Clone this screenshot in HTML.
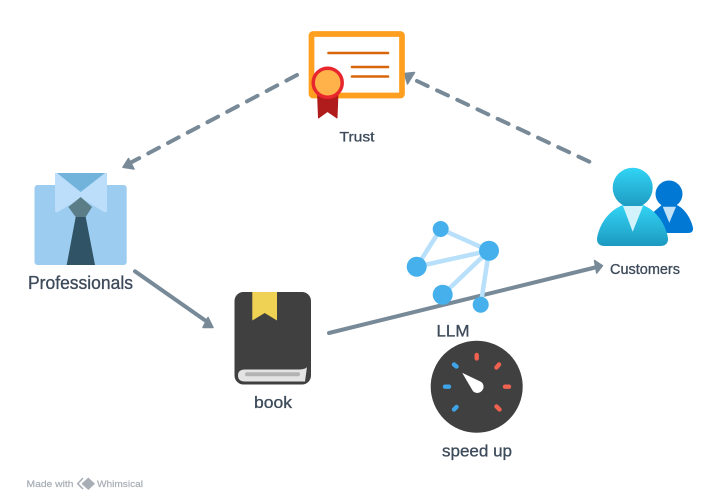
<!DOCTYPE html>
<html><head><meta charset="utf-8"><style>
html,body{margin:0;padding:0;background:#fff;width:720px;height:503px;overflow:hidden}
svg{display:block}
text{font-family:"Liberation Sans",sans-serif;fill:#3d4a5a;stroke:#3d4a5a;stroke-width:.3;text-anchor:middle}
</style></head><body>
<svg width="720" height="503" viewBox="0 0 720 503" xmlns="http://www.w3.org/2000/svg">
<defs>
<linearGradient id="g1" x1="0" y1="0" x2="0" y2="1"><stop offset="0" stop-color="#32d4f5"/><stop offset="1" stop-color="#1d99c0"/></linearGradient>
</defs>
<!-- connectors -->
<g stroke="#788a98" stroke-width="4" fill="none" stroke-linecap="round">
<path d="M297 75L130 163" stroke-dasharray="12 10.300"/>
<path d="M589.300 161.700L417 81" stroke-dasharray="12 10.300"/>
<path d="M135 271.300L206 321"/>
<path d="M329 333L595 267.500"/>
</g>
<g fill="#788a98" stroke="#788a98" stroke-width="1.500" stroke-linejoin="round">
<path d="M123 167.300L128.500 158.500L134 169Z"/>
<path d="M404.500 73.500L414.500 72.500L407.500 84Z"/>
<path d="M213 327.500L208 317.500L203 327.500Z"/>
<path d="M602.500 265.700L594.500 260.500L596.700 273Z"/>
</g>
<!-- certificate -->
<rect x="311.500" y="34" width="90.500" height="61.500" rx="1.500" fill="#fff" stroke="#ff9f1f" stroke-width="5.700"/>
<g stroke="#d9660a" stroke-width="2.600" stroke-linecap="round">
<path d="M328.500 53H388M352 67H388M352 76.500H388"/>
</g>
<path d="M317.500 92H338L337 118L327.500 111.500L318.500 118Z" fill="#b01c1c" stroke="#b01c1c" stroke-linejoin="round"/>
<circle cx="327.700" cy="82.700" r="14.500" fill="#ffb14a" stroke="#e8262d" stroke-width="3.500"/>
<!-- shirt -->
<rect x="34.500" y="185" width="92.200" height="80" rx="3" fill="#9ccdf0"/>
<path d="M55 173H107V210Q107 213 104 212L81 198L58 212Q55 213 55 210Z" fill="#bcdefb"/>
<path d="M57 173H105L80.700 192Z" fill="#72b3dc"/>
<path d="M80.700 197L92 207L85.700 217H75.700L68.300 207Z" fill="#5a7d88"/>
<path d="M75.700 217H85.700L95 265H66.700Z" fill="#305365"/>
<!-- customers -->
<path d="M650 215L661.700 205H676.700C684 208 691 218 693 228Q693.500 233 688 233H655Z" fill="#0078d4"/>
<circle cx="669" cy="194" r="13.500" fill="#0078d4"/>
<path d="M662.700 206.700H676L669.300 222.700Z" fill="#c3e1f7"/>
<path d="M597 238C600 222 610 210 623 205H643C655 210 665 222 668 238Q668.500 246 660 246H605Q596.500 246 597 238Z" fill="url(#g1)"/>
<circle cx="632.700" cy="187.700" r="20" fill="url(#g1)"/>
<path d="M623 206H643L632.700 231.700Z" fill="#d2f3fc"/>
<!-- LLM network -->
<g stroke="#b8e0fa" stroke-width="4.500">
<path d="M440.700 229L489 250.700M440.700 229L416.700 266.700M416.700 266.700L489 250.700M442.700 294.700L489 250.700M480.700 304.700L489 250.700"/>
</g>
<g fill="#45b0ec">
<circle cx="440.700" cy="229" r="8"/>
<circle cx="489" cy="250.700" r="10"/>
<circle cx="416.700" cy="266.700" r="10"/>
<circle cx="442.700" cy="294.700" r="10"/>
<circle cx="480.700" cy="304.700" r="8"/>
</g>
<!-- book -->
<rect x="234.500" y="292" width="76.500" height="92.500" rx="9" fill="#404040"/>
<path d="M245 369.500H300Q306 369 307 367L305 381.500H245Q238 381.500 238 375.500Q238 369.500 245 369.500Z" fill="#e3e3e3"/>
<rect x="245" y="372.300" width="55" height="4" rx="2" fill="#b3b3b3"/>
<path d="M252.300 292H277V320.500L264.700 313L252.300 320.500Z" fill="#efd253"/>
<!-- gauge -->
<circle cx="476.700" cy="386.700" r="46" fill="#404040"/>
<g stroke-width="4.400" stroke-linecap="round" fill="none">
<path stroke="#f0614f" d="M476.700 355V358.500M499 364.500L496.500 367.500M505 386.700H509M496.500 406.500L499.500 409.500"/>
<path stroke="#3fa3e8" d="M454 364.500L456.500 366.500M445 386.700H449M454 409.500L456.500 407"/>
</g>
<path d="M462.700 373.300L481.400 382.300A6 6 0 1 1 473.200 391.100Z" fill="#fff" stroke="#fff" stroke-width=".5" stroke-linejoin="round"/>
<!-- labels -->
<text x="357" y="141.700" font-size="14" textLength="35" lengthAdjust="spacingAndGlyphs">Trust</text>
<text x="80.500" y="289" font-size="18" textLength="105" lengthAdjust="spacingAndGlyphs">Professionals</text>
<text x="645" y="274" font-size="15" textLength="70" lengthAdjust="spacingAndGlyphs">Customers</text>
<text x="453" y="336.500" font-size="16.500" textLength="33" lengthAdjust="spacingAndGlyphs">LLM</text>
<text x="273" y="408" font-size="16.500" textLength="38" lengthAdjust="spacingAndGlyphs">book</text>
<text x="477" y="456.500" font-size="16.500" textLength="70" lengthAdjust="spacingAndGlyphs">speed up</text>
<!-- watermark -->
<text x="50" y="487" font-size="9.500" style="fill:#a8aeb6;stroke:#a8aeb6;stroke-width:.2" textLength="47" lengthAdjust="spacingAndGlyphs">Made with</text>
<text x="120" y="487" font-size="9.500" style="fill:#a8aeb6;stroke:#a8aeb6;stroke-width:.2" textLength="46" lengthAdjust="spacingAndGlyphs">Whimsical</text>
<path d="M83 478L77.700 483.700L83 489" fill="none" stroke="#a8aeb6" stroke-width="1.500"/>
<path d="M88.300 477.500L95 483.700L88.300 490L81.500 483.700Z" fill="#a8aeb6"/>
</svg>
</body></html>
